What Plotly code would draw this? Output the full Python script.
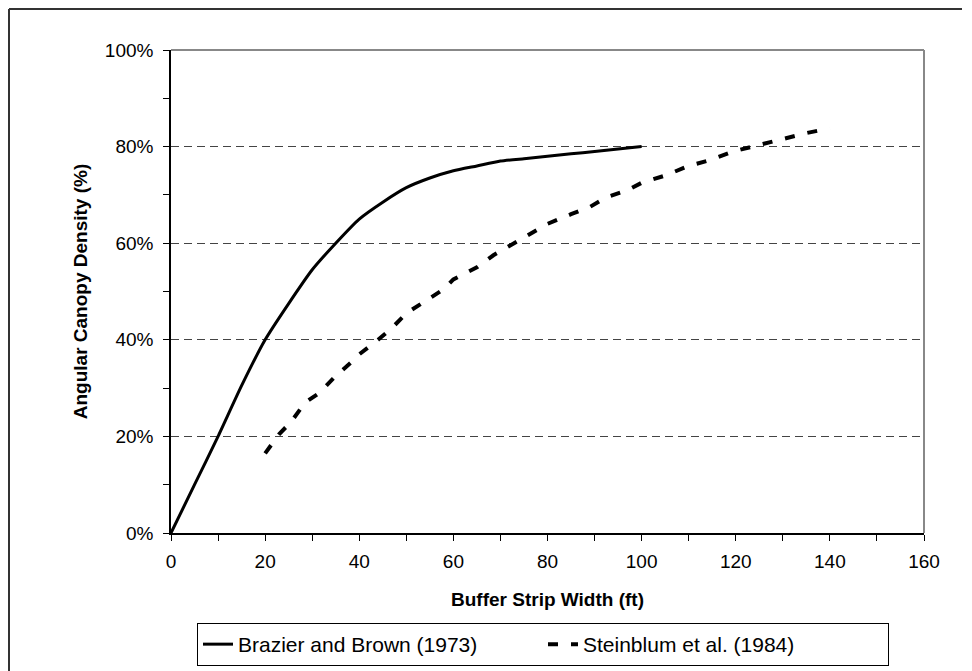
import plotly.graph_objects as go

# Brazier and Brown (1973)
bb_width = [0, 5, 10, 15, 20, 25, 30, 35, 40, 45, 50, 55, 60, 65, 70, 75, 80, 85, 90, 95, 100]
bb_density = [0, 10, 20, 30.5, 40, 47.5, 54.5, 60, 65, 68.5, 71.5, 73.5, 75, 76, 77, 77.5, 78, 78.5, 79, 79.5, 80]

# Steinblum et al. (1984)
st_width = [20, 23, 25.5, 28.5, 31.5, 35, 38.5, 40, 44, 47, 50, 54, 58, 60, 65, 68.5, 72, 75.5,
            80, 85, 89, 92.5, 97, 100, 105, 110, 114.5, 119.5, 124.5, 130, 135, 140]
st_density = [16.5, 20.5, 23, 27, 29, 32.5, 35.5, 37, 40, 42.5, 45.5, 48, 50.5, 52.5, 55, 57.5, 59.5, 61.5,
              64, 66, 67.5, 69.5, 71, 72.5, 74, 76, 77.2, 79, 80.2, 81.7, 82.8, 83.8]

series_names = ["Brazier and Brown (1973)", "Steinblum et al. (1984)"]
x_title = "Buffer Strip Width (ft)"
y_title = "Angular Canopy Density (%)"

FONT = "Arial, Liberation Sans, sans-serif"

fig = go.Figure()
fig.add_trace(go.Scatter(x=bb_width, y=bb_density, mode="lines", name=series_names[0],
                         line=dict(color="black", width=3, shape="spline", smoothing=0.5)))
fig.add_trace(go.Scatter(x=st_width, y=st_density, mode="lines", name=series_names[1],
                         line=dict(color="black", width=4, dash="10px,13px")))

# page has an 8px body offset; figure coordinates = page coordinates - 8
OFF = 8
W, H = 964, 663
L, T = 171 - OFF, 50 - OFF
R = W - (924 - OFF)
B = H - (533 - OFF)
pw, ph = W - L - R, H - T - B

def px(xp):  # page x -> paper
    return (xp - OFF - L) / pw

def py(yp):  # page y -> paper
    return (H - B - (yp - OFF)) / ph

shapes = [
    # plot-area frame (top and right, gray)
    dict(type="line", xref="paper", yref="paper", x0=0, x1=1, y0=1, y1=1,
         line=dict(color="#888888", width=2), layer="above"),
    dict(type="line", xref="paper", yref="paper", x0=1, x1=1, y0=0, y1=1,
         line=dict(color="#888888", width=2), layer="above"),
    # outer chart border (top and left)
    dict(type="line", xref="paper", yref="paper", x0=px(9), x1=px(962), y0=py(9), y1=py(9),
         line=dict(color="#333333", width=2)),
    dict(type="line", xref="paper", yref="paper", x0=px(9), x1=px(9), y0=py(9), y1=py(680),
         line=dict(color="#333333", width=2)),
]

fig.update_layout(
    width=W, height=H,
    margin=dict(l=L, r=R, t=T, b=B, autoexpand=False),
    paper_bgcolor="white", plot_bgcolor="white",
    font=dict(family=FONT, color="black", size=19),
    shapes=shapes,
    showlegend=True,
    legend=dict(orientation="h", x=px(543), xanchor="center", y=py(623), yanchor="top",
                bordercolor="black", borderwidth=1, bgcolor="white",
                font=dict(family=FONT, size=21, color="black"),
                entrywidth=300, entrywidthmode="pixels", itemwidth=30, tracegroupgap=0),
    xaxis=dict(range=[0, 160], dtick=20, tick0=0, showgrid=False, zeroline=False,
               showline=True, linecolor="black", linewidth=1.5,
               ticks="outside", ticklen=6, tickcolor="black", tickwidth=1,
               ticklabelstandoff=4,
               minor=dict(dtick=10, ticks="outside", ticklen=6, tickcolor="black", showgrid=False),
               title=dict(text="<b>" + x_title + "</b>", font=dict(size=19), standoff=22),
               tickfont=dict(size=19)),
    yaxis=dict(range=[0, 100], dtick=20, tick0=0, ticksuffix="%", showgrid=True,
               gridcolor="#444444", gridwidth=1, griddash="8px,5px", zeroline=False,
               showline=True, linecolor="black", linewidth=1.5,
               ticks="outside", ticklen=6, tickcolor="black", tickwidth=1,
               ticklabelstandoff=6,
               minor=dict(dtick=10, ticks="outside", ticklen=6, tickcolor="black", showgrid=False),
               title=dict(text="<b>" + y_title + "</b>", font=dict(size=19), standoff=12),
               tickfont=dict(size=19)),
)

fig.write_html("out.html")
